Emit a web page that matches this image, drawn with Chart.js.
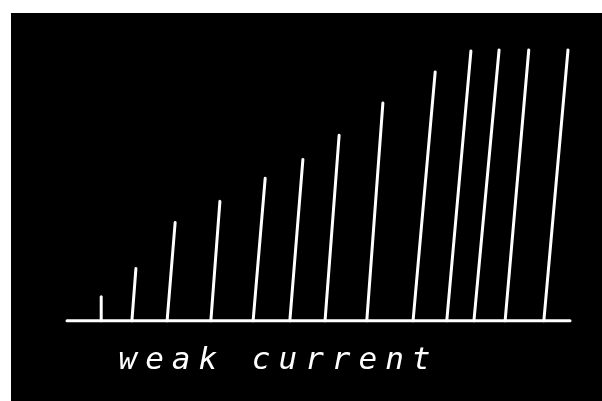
<!DOCTYPE html>
<html>
<head>
<meta charset="utf-8">
<script src="https://cdn.jsdelivr.net/npm/chart.js@4"></script>
<style>
  html, body { margin: 0; padding: 0; background: #fff; }
  #wrap { position: relative; width: 602px; height: 401px; overflow: hidden; }
  /* scanned black plate */
  #plate { position: absolute; left: 11px; top: 13px; right: 0; bottom: 0; background: #000; }
  #box { position: absolute; left: 0; top: 0; width: 602px; height: 401px; }
</style>
</head>
<body>
<div id="wrap">
  <div id="plate"></div>
  <div id="box"><canvas id="c"></canvas></div>
</div>
<script>
// foot of each stroke on the base line, and where its top leans to (x units 0-100)
const footX = [6.8, 12.9, 19.9, 28.6, 37.0, 44.3, 51.3, 59.6, 68.8, 75.5, 80.9, 87.1, 94.8];
const tipX  = [6.8, 13.7, 21.5, 30.4, 39.4, 46.9, 54.1, 62.8, 73.2, 80.3, 85.9, 91.8, 99.6];
// stroke heights (0-100)
const heights = [8.9, 19.3, 36.3, 44.1, 52.6, 59.6, 68.5, 80.4, 91.9, 99.6, 100, 100, 100];
const baseLine = [0, 100];
const caption = 'weak current';

const stroke = { showLine: true, borderColor: '#fff', borderWidth: 3, borderCapStyle: 'round',
                 pointRadius: 0, clip: false, fill: false };

const datasets = heights.map((h, i) => ({
  ...stroke,
  data: [{ x: footX[i], y: 0 }, { x: tipX[i], y: h }]
}));
datasets.push({ ...stroke, data: baseLine.map(x => ({ x, y: 0 })) });

// wider letter spacing, like the hand lettering
const spacing = {
  id: 'spacing',
  beforeDraw(chart) { chart.ctx.letterSpacing = '8px'; }
};

new Chart(document.getElementById('c'), {
  type: 'scatter',
  data: { datasets },
  plugins: [spacing],
  options: {
    responsive: true, maintainAspectRatio: false, animation: false,
    layout: { padding: { left: 67, right: 32, top: 50, bottom: 0 } },
    plugins: { legend: { display: false }, tooltip: { enabled: false } },
    scales: {
      x: {
        type: 'linear', min: 0, max: 100,
        ticks: { display: false }, grid: { display: false, drawTicks: false }, border: { display: false },
        title: {
          display: true, text: caption + '   ', color: '#fff',
          font: { family: '"DejaVu Sans Mono", monospace', size: 31, style: 'italic', lineHeight: 1.2 },
          padding: { top: 22, bottom: 21 }
        }
      },
      y: { type: 'linear', min: 0, max: 100, display: false }
    }
  }
});
</script>
</body>
</html>
